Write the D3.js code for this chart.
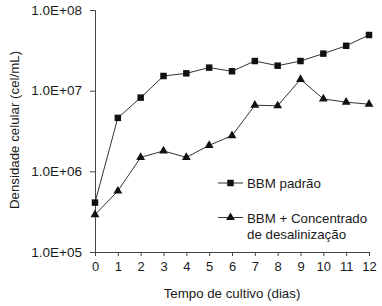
<!DOCTYPE html>
<html>
<head>
<meta charset="utf-8">
<script src="https://cdn.jsdelivr.net/npm/d3@7"></script>
<style>
  body { margin: 0; background: #fff; }
  text { font-family: "Liberation Sans", Arial, sans-serif; fill: #1a1a1a; }
</style>
</head>
<body>
<div id="vis"></div>
<script>
// days of cultivation
var days = [0, 1, 2, 3, 4, 5, 6, 7, 8, 9, 10, 11, 12];
// cell density, cel/mL
var padrao = [4.1e5, 4.6e6, 8.2e6, 1.52e7, 1.64e7, 1.93e7, 1.74e7, 2.33e7, 2.04e7, 2.33e7, 2.88e7, 3.6e7, 4.9e7];
var concentrado = [2.9e5, 5.7e5, 1.49e6, 1.79e6, 1.49e6, 2.1e6, 2.77e6, 6.6e6, 6.5e6, 1.38e7, 7.9e6, 7.2e6, 6.8e6];
var yTicks = [1e5, 1e6, 1e7, 1e8];
var seriesNames = ["BBM padrão", "BBM + Concentrado|de desalinização"];

var margin = {top: 10, right: 13, bottom: 54, left: 95};
var width = 382 - margin.left - margin.right,
    height = 306 - margin.top - margin.bottom;

var svg = d3.select("#vis").append("svg")
    .attr("width", 382)
    .attr("height", 306);

var g = svg.append("g")
    .attr("transform", "translate(" + margin.left + "," + margin.top + ")");

var x = d3.scaleLinear().domain([0, 12]).range([0, width]);
var y = d3.scaleLog().domain([1e5, 1e8]).range([height, 0]);

var axisColor = "#444";
var fs = 13.3;

// y axis
var yAxis = d3.axisLeft(y)
    .tickValues(yTicks)
    .tickSize(5)
    .tickPadding(8)
    .tickFormat(function(d){ return d3.format(".1e")(d).replace("e", "E").replace(/E\+(\d)$/, "E+0$1").toUpperCase(); });

g.append("g")
    .attr("class", "axis axis--y")
    .call(yAxis)
    .call(function(s){
        s.select(".domain").attr("stroke", axisColor);
        s.selectAll(".tick line").attr("stroke", axisColor);
        s.selectAll(".tick text").attr("font-size", 13.5).attr("font-family", "Liberation Sans, Arial, sans-serif").attr("fill", "#1a1a1a");
    });

// x axis
var xAxis = d3.axisBottom(x)
    .tickValues(days)
    .tickSize(4)
    .tickPadding(6)
    .tickFormat(d3.format("d"));

g.append("g")
    .attr("class", "axis axis--x")
    .attr("transform", "translate(0," + height + ")")
    .call(xAxis)
    .call(function(s){
        s.select(".domain").attr("stroke", axisColor);
        s.selectAll(".tick line").attr("stroke", axisColor);
        s.selectAll(".tick text").attr("font-size", 13).attr("font-family", "Liberation Sans, Arial, sans-serif").attr("fill", "#1a1a1a");
    });

// axis titles
svg.append("text")
    .attr("x", margin.left + width / 2)
    .attr("y", 298)
    .attr("text-anchor", "middle")
    .attr("font-size", fs)
    .text("Tempo de cultivo (dias)");

svg.append("text")
    .attr("transform", "translate(19," + (10 + 120) + ") rotate(-90)")
    .attr("text-anchor", "middle")
    .attr("font-size", fs)
    .text("Densidade celular (cel/mL)");

var line = d3.line()
    .x(function(d, i){ return x(days[i]); })
    .y(function(d){ return y(d); });

var lineColor = "#333";
var markColor = "#111";

g.append("path")
    .datum(padrao)
    .attr("fill", "none")
    .attr("stroke", lineColor)
    .attr("stroke-width", 1)
    .attr("d", line);

g.append("path")
    .datum(concentrado)
    .attr("fill", "none")
    .attr("stroke", lineColor)
    .attr("stroke-width", 1)
    .attr("d", line);

var square = d3.symbol().type(d3.symbolSquare).size(42);
var triangle = d3.symbol().type(d3.symbolTriangle).size(34);

g.selectAll(".sq")
    .data(padrao)
    .enter()
    .append("path")
    .attr("class", "sq")
    .attr("d", square)
    .attr("transform", function(d, i){ return "translate(" + x(days[i]) + "," + y(d) + ")"; })
    .attr("fill", markColor);

g.selectAll(".tri")
    .data(concentrado)
    .enter()
    .append("path")
    .attr("class", "tri")
    .attr("d", triangle)
    .attr("transform", function(d, i){ return "translate(" + x(days[i]) + "," + y(d) + ")"; })
    .attr("fill", markColor);

// legend
var legend = svg.append("g").attr("transform", "translate(218,183)");
var legendRows = [{sym: square, dy: 0}, {sym: triangle, dy: 34.5}];

legendRows.forEach(function(r, i){
    var row = legend.append("g").attr("transform", "translate(0," + r.dy + ")");
    row.append("line")
        .attr("x1", 0).attr("x2", 25)
        .attr("stroke", lineColor);
    row.append("path")
        .attr("d", r.sym)
        .attr("transform", "translate(12.5,0)")
        .attr("fill", markColor);
    var parts = seriesNames[i].split("|");
    parts.forEach(function(p, j){
        row.append("text")
            .attr("x", 29)
            .attr("y", 5 + j * 16.8)
            .attr("font-size", fs)
            .text(p);
    });
});
</script>
</body>
</html>
